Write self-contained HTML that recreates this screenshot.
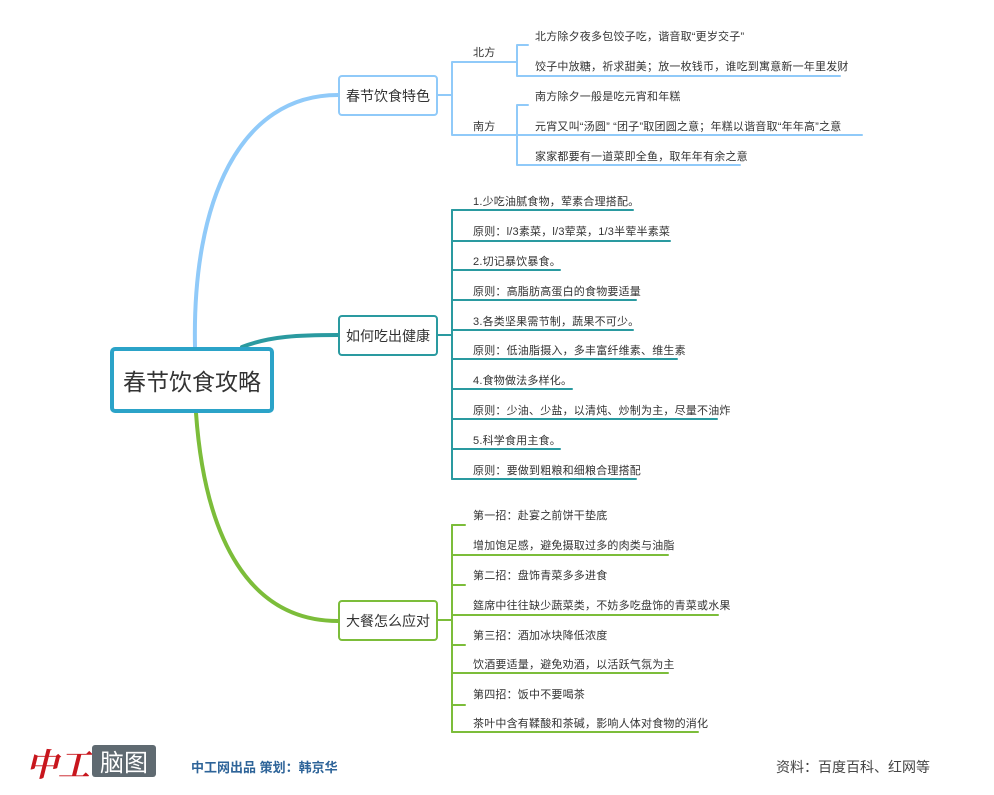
<!DOCTYPE html>
<html><head><meta charset="utf-8"><style>
body{margin:0;background:#fff;}
svg text{font-family:"Liberation Sans","Noto Sans CJK SC",sans-serif;fill:#333;}
</style></head><body>
<svg width="994" height="790" xmlns="http://www.w3.org/2000/svg">
<g fill="none" stroke-linecap="round">
<path d="M195,347 C192,200 240,95 338,95" stroke="#90caf9" stroke-width="4"/>
<path d="M242,347 C270,336 300,335 338,335" stroke="#2a9aa0" stroke-width="4"/>
<path d="M196,413 C205,540 250,621 338,621" stroke="#7cbd3a" stroke-width="4"/>
<g stroke="#90caf9" stroke-width="2">
<path d="M437,95 H452 M452,62 V135 M452,62 H515 M452,135 H515"/>
<path d="M515,62 H517 M517,45 V76 M517,45 H528 M517,76 H840"/>
<path d="M515,135 H517 M517,105 V165 M517,105 H528 M517,135 H862 M517,165 H740"/>
</g>
<g stroke="#2a9aa0" stroke-width="2">
<path d="M437,335 H452 M452,210 V479"/>
<path d="M452,210 H633 M452,241 H670 M452,270 H560 M452,300 H636 M452,330 H633 M452,359 H677 M452,389 H572 M452,419 H717 M452,449 H560 M452,479 H636"/>
</g>
<g stroke="#7cbd3a" stroke-width="2">
<path d="M437,620 H452 M452,525 V732"/>
<path d="M452,525 H465 M452,555 H668 M452,585 H465 M452,615 H718 M452,645 H465 M452,673 H668 M452,705 H465 M452,732 H698"/>
</g>
</g>
<rect x="112" y="349" width="160" height="62" rx="3" fill="#fff" stroke="#2ba3c8" stroke-width="4"/>
<text x="192" y="390" font-size="23" text-anchor="middle">春节饮食攻略</text>
<rect x="339" y="76" width="98" height="39" rx="3" fill="#fff" stroke="#90caf9" stroke-width="2"/>
<text x="388" y="101" font-size="14" text-anchor="middle">春节饮食特色</text>
<rect x="339" y="316" width="98" height="39" rx="3" fill="#fff" stroke="#2a9aa0" stroke-width="2"/>
<text x="388" y="341" font-size="14" text-anchor="middle">如何吃出健康</text>
<rect x="339" y="601" width="98" height="39" rx="3" fill="#fff" stroke="#7cbd3a" stroke-width="2"/>
<text x="388" y="626" font-size="14" text-anchor="middle">大餐怎么应对</text>
<g font-size="11" letter-spacing="0.2">
<text x="473" y="56">北方</text>
<text x="473" y="130">南方</text>
<text x="535" y="40">北方除夕夜多包饺子吃，谐音取“更岁交子”</text>
<text x="535" y="70">饺子中放糖，祈求甜美；放一枚钱币，谁吃到寓意新一年里发财</text>
<text x="535" y="100">南方除夕一般是吃元宵和年糕</text>
<text x="535" y="130">元宵又叫“汤圆” “团子”取团圆之意；年糕以谐音取“年年高”之意</text>
<text x="535" y="160">家家都要有一道菜即全鱼，取年年有余之意</text>
<text x="473" y="205">1.少吃油腻食物，荤素合理搭配。</text>
<text x="473" y="235">原则：l/3素菜，l/3荤菜，1/3半荤半素菜</text>
<text x="473" y="265">2.切记暴饮暴食。</text>
<text x="473" y="295">原则：高脂肪高蛋白的食物要适量</text>
<text x="473" y="325">3.各类坚果需节制，蔬果不可少。</text>
<text x="473" y="354">原则：低油脂摄入，多丰富纤维素、维生素</text>
<text x="473" y="384">4.食物做法多样化。</text>
<text x="473" y="414">原则：少油、少盐，以清炖、炒制为主，尽量不油炸</text>
<text x="473" y="444">5.科学食用主食。</text>
<text x="473" y="474">原则：要做到粗粮和细粮合理搭配</text>
<text x="473" y="519">第一招：赴宴之前饼干垫底</text>
<text x="473" y="549">增加饱足感，避免摄取过多的肉类与油脂</text>
<text x="473" y="579">第二招：盘饰青菜多多进食</text>
<text x="473" y="609">筵席中往往缺少蔬菜类，不妨多吃盘饰的青菜或水果</text>
<text x="473" y="639">第三招：酒加冰块降低浓度</text>
<text x="473" y="668">饮酒要适量，避免劝酒，以活跃气氛为主</text>
<text x="473" y="698">第四招：饭中不要喝茶</text>
<text x="473" y="727">茶叶中含有鞣酸和茶碱，影响人体对食物的消化</text>
</g>
<text x="26" y="776" font-size="32" font-weight="bold" font-style="italic" style="fill:#c8161d;font-family:'Noto Serif CJK SC',serif">中工</text>
<rect x="92" y="745" width="64" height="32" rx="3" fill="#5f6a71"/>
<text x="124" y="771" font-size="24" text-anchor="middle" style="fill:#fff">脑图</text>
<text x="191" y="772" font-size="13" font-weight="bold" style="fill:#2e6499">中工网出品  策划：韩京华</text>
<text x="776" y="772" font-size="14" style="fill:#444">资料：百度百科、红网等</text>
</svg>
</body></html>
